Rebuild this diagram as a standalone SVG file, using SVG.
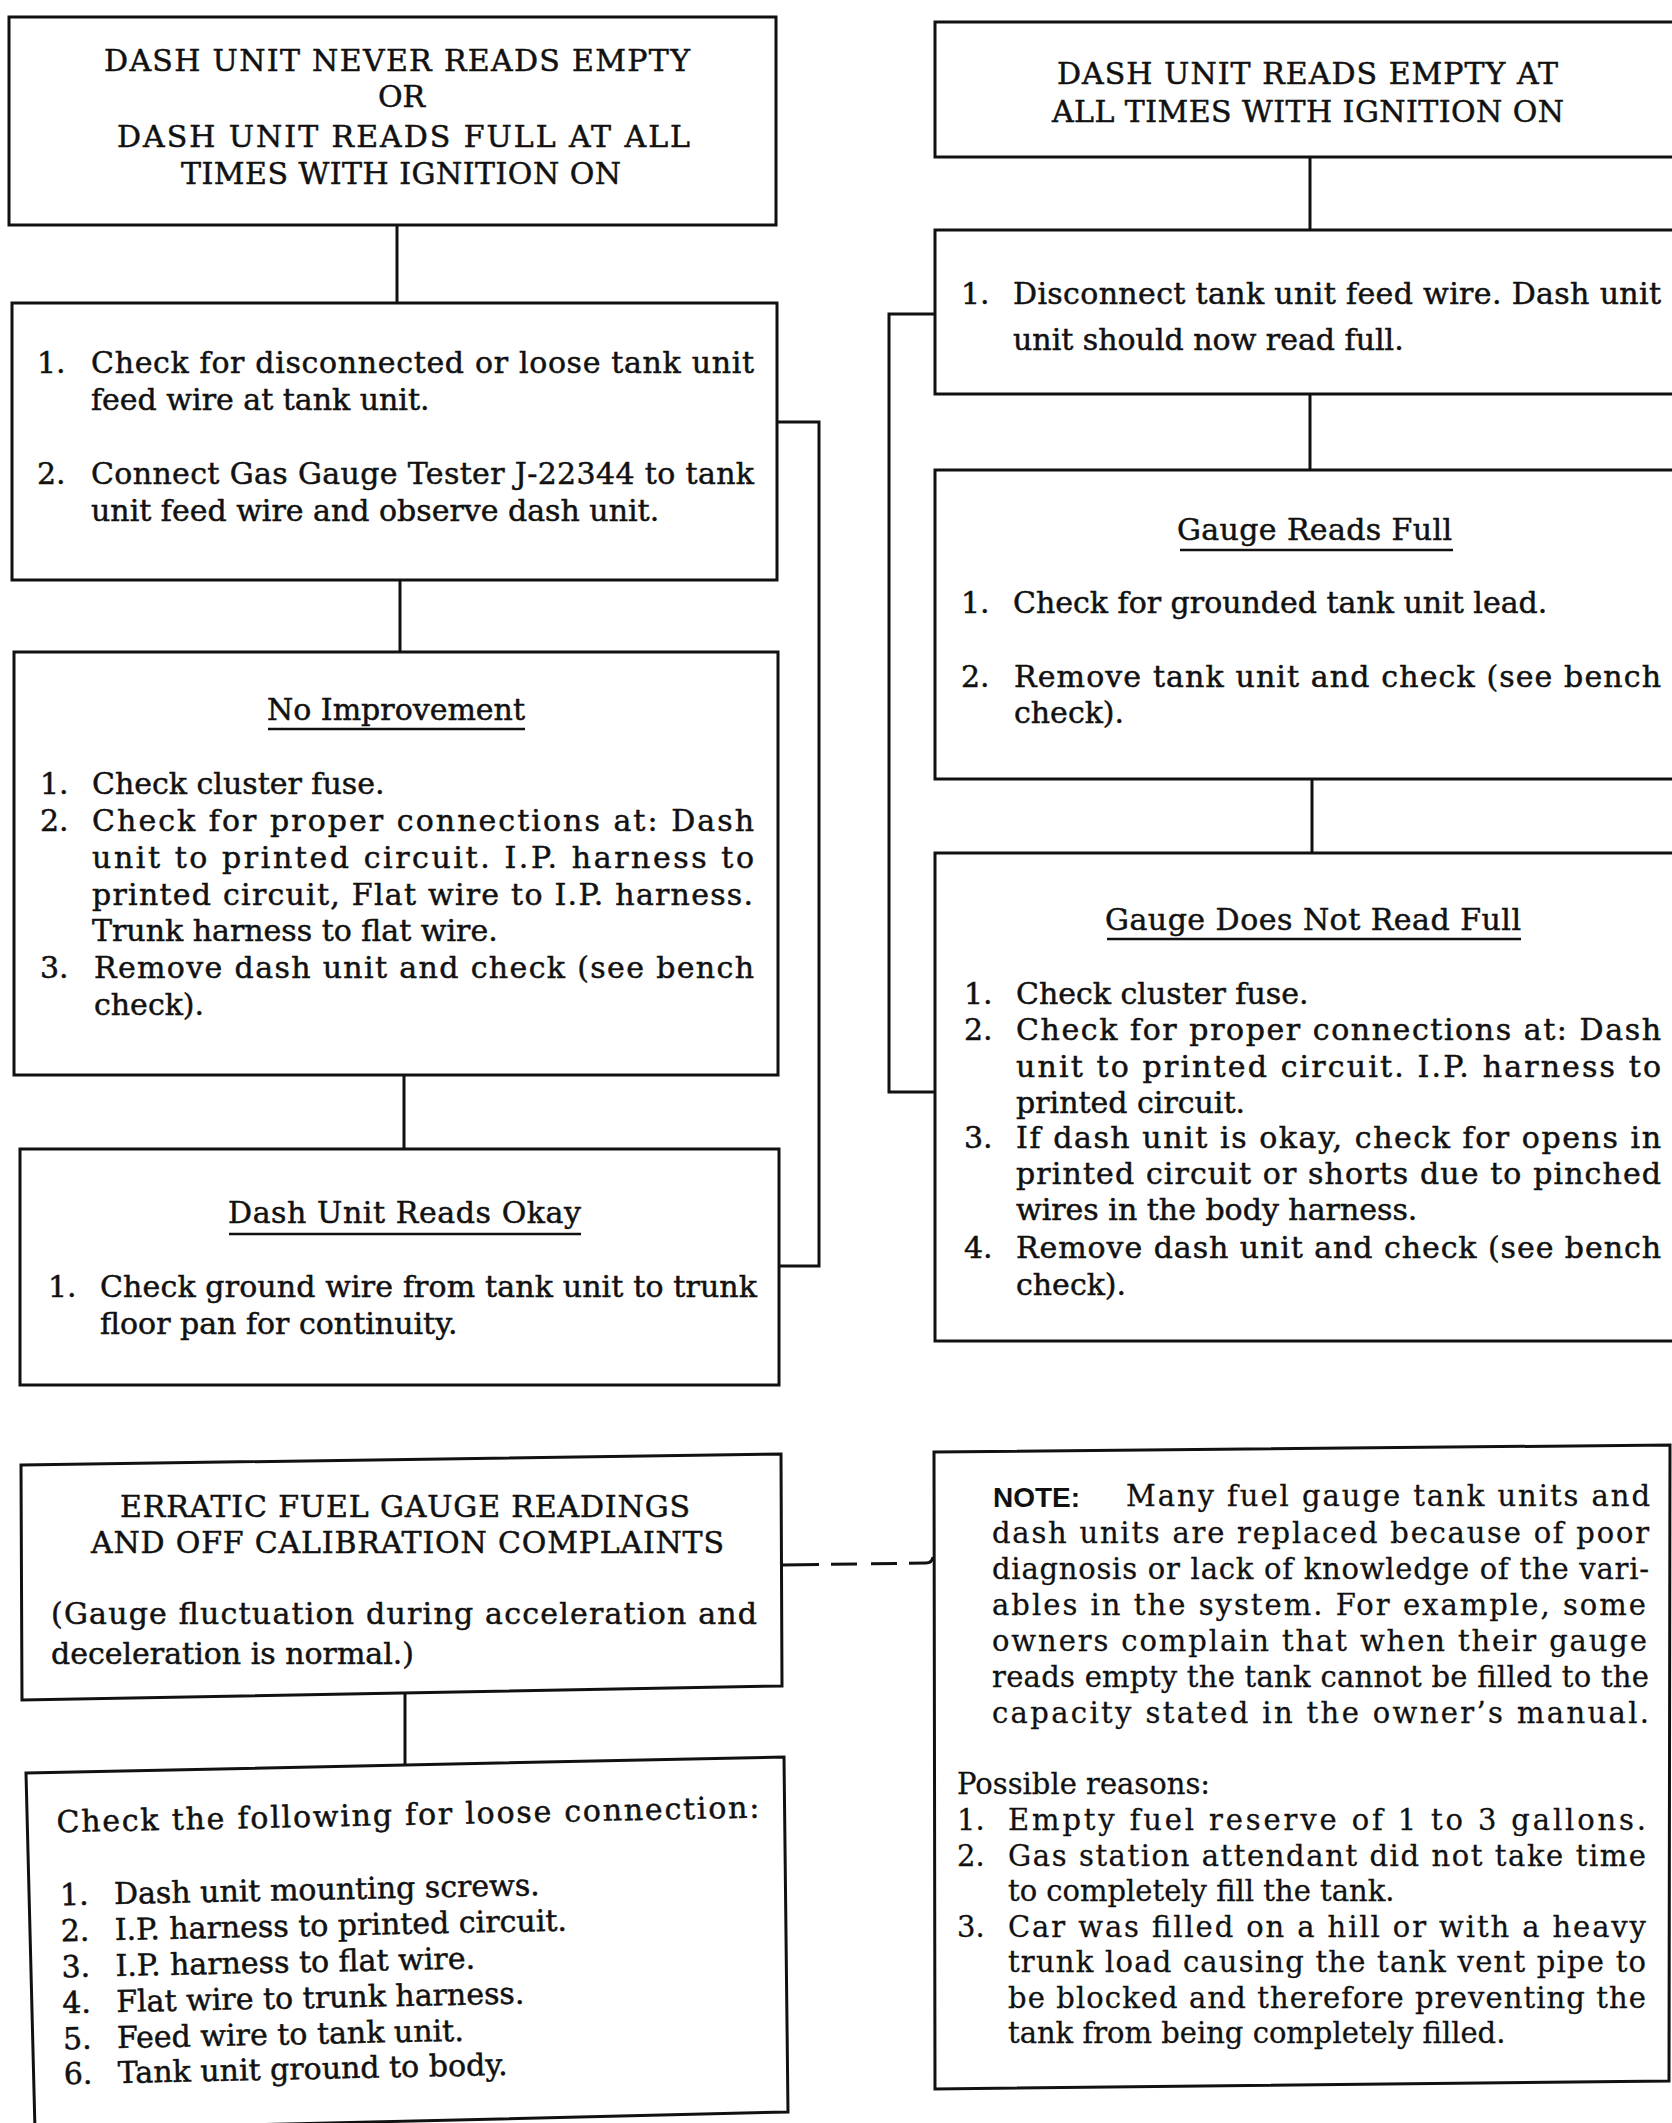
<svg xmlns="http://www.w3.org/2000/svg" width="1672" height="2123" viewBox="0 0 1672 2123">
<style>
.b{fill:none;stroke:#111;stroke-width:3}
.c{fill:none;stroke:#111;stroke-width:3}
.u{stroke:#111;stroke-width:2.5}
text{font-family:"DejaVu Serif","Liberation Serif",serif;font-size:30px;fill:#111;stroke:#111;stroke-width:0.5}
.n{font-size:29px;stroke-width:0.3}
.note{font-family:"Liberation Sans",Arial,sans-serif;font-weight:bold;font-size:28px;stroke-width:0}
</style>
<rect width="1672" height="2123" fill="#fff"/>
<g id="connectors">
<line class="c" x1="397" y1="225" x2="397" y2="303"/>
<line class="c" x1="400" y1="580" x2="400" y2="652"/>
<line class="c" x1="404" y1="1075" x2="404" y2="1149"/>
<polyline class="c" points="778,422 819,422 819,1266 779,1266"/>
<line class="c" x1="1310" y1="157" x2="1310" y2="230"/>
<line class="c" x1="1310" y1="394" x2="1310" y2="470"/>
<line class="c" x1="1312" y1="779" x2="1312" y2="853"/>
<polyline class="c" points="935,314 889,314 889,1092 935,1092"/>
<line class="c" x1="405" y1="1692" x2="405" y2="1765"/>
<path class="c" d="M782,1565 L926,1563 Q932,1563 933,1557" stroke-dasharray="37 12 26 14 26 12 40"/>
</g>
<g id="box-a">
<rect class="b" x="9" y="17" width="767" height="208"/>
<text x="104" y="71" textLength="586" lengthAdjust="spacing">DASH UNIT NEVER READS EMPTY</text>
<text x="378" y="107">OR</text>
<text x="117" y="147" textLength="573" lengthAdjust="spacing">DASH UNIT READS FULL AT ALL</text>
<text x="181" y="184" textLength="440" lengthAdjust="spacing">TIMES WITH IGNITION ON</text>
</g>
<g id="box-b">
<rect class="b" x="12" y="303" width="765" height="277"/>
<text x="37" y="373">1.</text>
<text x="91" y="373" textLength="663" lengthAdjust="spacing">Check for disconnected or loose tank unit</text>
<text x="91" y="410">feed wire at tank unit.</text>
<text x="37" y="484">2.</text>
<text x="91" y="484" textLength="663" lengthAdjust="spacing">Connect Gas Gauge Tester J-22344 to tank</text>
<text x="91" y="521">unit feed wire and observe dash unit.</text>
</g>
<g id="box-c">
<rect class="b" x="14" y="652" width="764" height="423"/>
<text x="267" y="720" textLength="258" lengthAdjust="spacing">No Improvement</text>
<line class="u" x1="268" y1="729" x2="525" y2="729"/>
<text x="40" y="794">1.</text>
<text x="92" y="794">Check cluster fuse.</text>
<text x="40" y="831">2.</text>
<text x="92" y="831" textLength="662" lengthAdjust="spacing">Check for proper connections at:  Dash</text>
<text x="92" y="868" textLength="662" lengthAdjust="spacing">unit to printed circuit.  I.P. harness to</text>
<text x="92" y="905" textLength="661" lengthAdjust="spacing">printed circuit,  Flat wire to I.P. harness.</text>
<text x="92" y="941">Trunk harness to flat wire.</text>
<text x="40" y="978">3.</text>
<text x="94" y="978" textLength="660" lengthAdjust="spacing">Remove dash unit and check (see bench</text>
<text x="94" y="1015">check).</text>
</g>
<g id="box-d">
<rect class="b" x="20" y="1149" width="759" height="236"/>
<text x="228" y="1223" textLength="353" lengthAdjust="spacing">Dash Unit Reads Okay</text>
<line class="u" x1="229" y1="1234" x2="581" y2="1234"/>
<text x="48" y="1297">1.</text>
<text x="100" y="1297" textLength="657" lengthAdjust="spacing">Check ground wire from tank unit to trunk</text>
<text x="100" y="1334">floor pan for continuity.</text>
</g>
<g id="box-e">
<rect class="b" x="935" y="22" width="760" height="135"/>
<text x="1057" y="84" textLength="501" lengthAdjust="spacing">DASH UNIT READS EMPTY AT</text>
<text x="1052" y="122" textLength="512" lengthAdjust="spacing">ALL TIMES WITH IGNITION ON</text>
</g>
<g id="box-f">
<rect class="b" x="935" y="230" width="760" height="164"/>
<text x="961" y="304">1.</text>
<text x="1013" y="304" textLength="648" lengthAdjust="spacing">Disconnect tank unit feed wire.  Dash unit</text>
<text x="1013" y="350">unit should now read full.</text>
</g>
<g id="box-g">
<rect class="b" x="935" y="470" width="760" height="309"/>
<text x="1177" y="540" textLength="275" lengthAdjust="spacing">Gauge Reads Full</text>
<line class="u" x1="1180" y1="550" x2="1453" y2="550"/>
<text x="961" y="613">1.</text>
<text x="1013" y="613">Check for grounded tank unit lead.</text>
<text x="961" y="687">2.</text>
<text x="1014" y="687" textLength="647" lengthAdjust="spacing">Remove tank unit and check (see bench</text>
<text x="1014" y="723">check).</text>
</g>
<g id="box-h">
<rect class="b" x="935" y="853" width="760" height="488"/>
<text x="1105" y="930" textLength="416" lengthAdjust="spacing">Gauge Does Not Read Full</text>
<line class="u" x1="1107" y1="939" x2="1521" y2="939"/>
<text x="964" y="1004">1.</text>
<text x="1016" y="1004">Check cluster fuse.</text>
<text x="964" y="1040">2.</text>
<text x="1016" y="1040" textLength="645" lengthAdjust="spacing">Check for proper connections at:  Dash</text>
<text x="1016" y="1077" textLength="645" lengthAdjust="spacing">unit to printed circuit.  I.P. harness to</text>
<text x="1016" y="1113">printed circuit.</text>
<text x="964" y="1148">3.</text>
<text x="1016" y="1148" textLength="645" lengthAdjust="spacing">If dash unit is okay, check for opens in</text>
<text x="1016" y="1184" textLength="645" lengthAdjust="spacing">printed circuit or shorts due to pinched</text>
<text x="1016" y="1220">wires in the body harness.</text>
<text x="964" y="1258">4.</text>
<text x="1016" y="1258" textLength="645" lengthAdjust="spacing">Remove dash unit and check (see bench</text>
<text x="1016" y="1295">check).</text>
</g>
<g id="box-i">
<polygon class="b" points="21,1465 781,1454 782,1686 22,1700"/>
<text x="120" y="1517" textLength="570" lengthAdjust="spacing">ERRATIC FUEL GAUGE READINGS</text>
<text x="91" y="1553" textLength="633" lengthAdjust="spacing">AND OFF CALIBRATION COMPLAINTS</text>
<text x="51" y="1624" textLength="706" lengthAdjust="spacing">(Gauge fluctuation during acceleration and</text>
<text x="51" y="1664">deceleration is normal.)</text>
</g>
<g id="box-j">
<polygon class="b" points="26,1773 784,1757 788,2112 35,2130"/>
<g transform="rotate(-1.2 405 1940)">
<text x="59" y="1825" textLength="703" lengthAdjust="spacing">Check the following for loose connection:</text>
<text x="61" y="1898">1.</text><text x="115" y="1898">Dash unit mounting screws.</text>
<text x="61" y="1934">2.</text><text x="115" y="1934">I.P. harness to printed circuit.</text>
<text x="61" y="1970">3.</text><text x="115" y="1970">I.P. harness to flat wire.</text>
<text x="61" y="2006">4.</text><text x="115" y="2006">Flat wire to trunk harness.</text>
<text x="61" y="2042">5.</text><text x="115" y="2042">Feed wire to tank unit.</text>
<text x="61" y="2077">6.</text><text x="115" y="2077">Tank unit ground to body.</text>
</g>
</g>
<g id="box-k">
<polygon class="b" points="934,1452 1670,1445 1669,2081 935,2089"/>
<text class="note" x="993" y="1507">NOTE:</text>
<text class="n" x="1126" y="1506" textLength="524" lengthAdjust="spacing">Many fuel gauge tank units and</text>
<text class="n" x="992" y="1543" textLength="657" lengthAdjust="spacing">dash units are replaced because of poor</text>
<text class="n" x="992" y="1579" textLength="657" lengthAdjust="spacing">diagnosis or lack of knowledge of the vari-</text>
<text class="n" x="992" y="1615" textLength="654" lengthAdjust="spacing">ables in the system.  For example, some</text>
<text class="n" x="992" y="1651" textLength="655" lengthAdjust="spacing">owners complain that when their gauge</text>
<text class="n" x="992" y="1687" textLength="657" lengthAdjust="spacing">reads empty the tank cannot be filled to the</text>
<text class="n" x="992" y="1723" textLength="657" lengthAdjust="spacing">capacity stated in the owner’s manual.</text>
<text class="n" x="957" y="1794">Possible reasons:</text>
<text class="n" x="957" y="1830">1.</text>
<text class="n" x="1008" y="1830" textLength="638" lengthAdjust="spacing">Empty fuel reserve of 1 to 3 gallons.</text>
<text class="n" x="957" y="1866">2.</text>
<text class="n" x="1008" y="1866" textLength="638" lengthAdjust="spacing">Gas station attendant did not take time</text>
<text class="n" x="1008" y="1901">to completely fill the tank.</text>
<text class="n" x="957" y="1937">3.</text>
<text class="n" x="1008" y="1937" textLength="638" lengthAdjust="spacing">Car was filled on a hill or with a heavy</text>
<text class="n" x="1008" y="1972" textLength="638" lengthAdjust="spacing">trunk load causing the tank vent pipe to</text>
<text class="n" x="1008" y="2008" textLength="638" lengthAdjust="spacing">be blocked and therefore preventing the</text>
<text class="n" x="1008" y="2043">tank from being completely filled.</text>
</g>
</svg>
